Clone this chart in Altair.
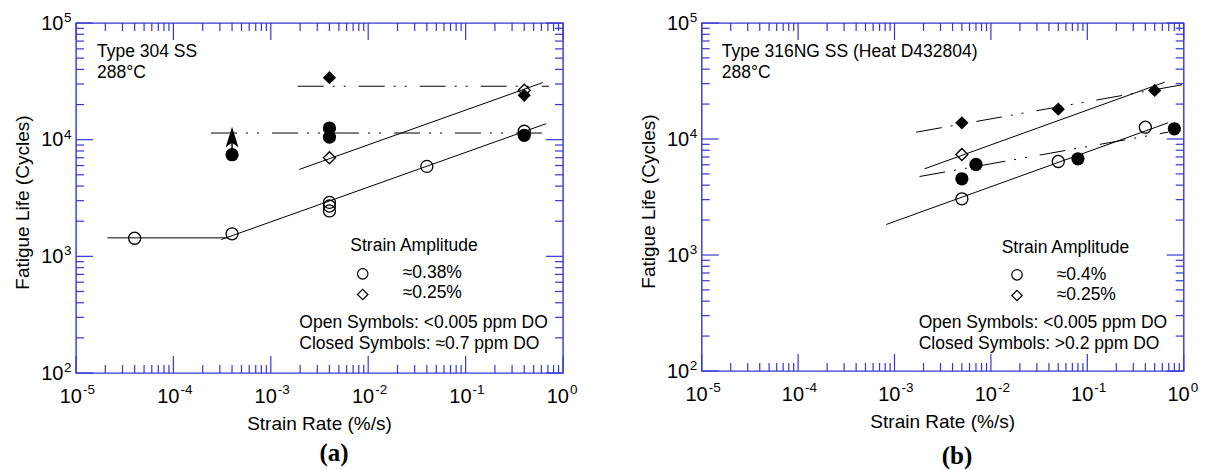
import altair as alt
import pandas as pd

FONT = "Liberation Sans"
BLUE = "#3636d8"

# ---------------- panel (a): Type 304 SS ----------------
a_open_circle_x = [4e-5, 4e-4, 4e-3, 4e-3, 4e-3, 0.04, 0.4]
a_open_circle_y = [1430, 1560, 2900, 2700, 2450, 5900, 11800]
a_open_diamond_x = [4e-3, 0.4]
a_open_diamond_y = [7000, 26500]
a_closed_circle_x = [4e-4, 4e-3, 4e-3, 0.4]
a_closed_circle_y = [7430, 12580, 10520, 10900]
a_closed_diamond_x = [4e-3, 0.4]
a_closed_diamond_y = [34000, 24000]
a_solid_id = ["flat", "flat", "circ", "circ", "diam", "diam"]
a_solid_x = [2.1e-5, 3.6e-4, 3.1e-4, 0.67, 1.96e-3, 0.62]
a_solid_y = [1440, 1440, 1393, 13700, 5560, 30850]
a_dash_id = ["circ", "circ", "diam", "diam"]
a_dash_x = [2.43e-4, 0.67, 1.89e-3, 0.72]
a_dash_y = [11400, 11400, 28700, 28700]
a_arrow_x = [4e-4]
a_arrow_y0 = [7430]
a_arrow_head_y = [10520]

# ---------------- panel (b): Type 316NG SS ----------------
b_open_circle_x = [5e-3, 0.05, 0.4]
b_open_circle_y = [3050, 6400, 12640]
b_open_diamond_x = [5e-3]
b_open_diamond_y = [7350]
b_closed_circle_x = [5e-3, 7e-3, 0.08, 0.8]
b_closed_circle_y = [4540, 6030, 6750, 12250]
b_closed_diamond_x = [5e-3, 0.05, 0.5]
b_closed_diamond_y = [13790, 18070, 26200]
b_solid_id = ["circ", "circ", "diam", "diam"]
b_solid_x = [8.2e-4, 0.69, 2.05e-3, 0.637]
b_solid_y = [1832, 13800, 5535, 30900]
b_dash_id = ["circ", "circ", "diam", "diam"]
b_dash_x = [1.82e-3, 0.69, 1.68e-3, 1.0]
b_dash_y = [4750, 11450, 11450, 29500]

# ---------------- axes ----------------
x_major = [1e-5, 1e-4, 1e-3, 1e-2, 1e-1, 1.0]
x_exp = ["-5", "-4", "-3", "-2", "-1", "0"]
y_major = [1e2, 1e3, 1e4, 1e5]
y_exp = ["2", "3", "4", "5"]
x_minor = [m * d for d in [1e-5, 1e-4, 1e-3, 1e-2, 1e-1] for m in range(2, 10)]
y_minor = [m * d for d in [1e2, 1e3, 1e4] for m in range(2, 10)]

XS = alt.Scale(type="log", domain=[1e-5, 1], nice=False)
YS = alt.Scale(type="log", domain=[100, 1e5], nice=False)
DASH = [26, 9, 2, 9, 2, 13]
ARROW = "M0,-1 L0.62,1 L0,0.55 L-0.62,1 Z"


def X(f="x"):
    return alt.X(f"{f}:Q", scale=XS, axis=None)


def Y(f="y"):
    return alt.Y(f"{f}:Q", scale=YS, axis=None)


def one(text):
    return pd.DataFrame({"t": [text]})


def txt(text, x, y, size=17.5, align="left", font=FONT, weight="normal", angle=0):
    return alt.Chart(one(text)).mark_text(
        align=align, baseline="alphabetic", font=font, fontSize=size,
        fontWeight=weight, angle=angle, color="black"
    ).encode(x=alt.value(x), y=alt.value(y), text="t:N")


def panel(W, H, pts, solid, dash, header, legend, label, leg, arrow=None, anchor=False):
    layers = []
    if anchor:
        layers.append(alt.Chart(one("")).mark_rule(strokeOpacity=0, strokeWidth=1).encode(
            x=alt.value(-66.5), y=alt.value(-14), y2=alt.value(0)))
    # ticks (inward on four sides)
    xmaj = pd.DataFrame({"x": x_major})
    xmin = pd.DataFrame({"x": x_minor})
    ymaj = pd.DataFrame({"y": y_major})
    ymin = pd.DataFrame({"y": y_minor})
    for df, ln in [(xmaj, 17), (xmin, 8)]:
        layers.append(alt.Chart(df).mark_rule(color=BLUE, strokeWidth=1.2).encode(
            x=X(), y=alt.value(H), y2=alt.value(H - ln)))
        layers.append(alt.Chart(df).mark_rule(color=BLUE, strokeWidth=1.2).encode(
            x=X(), y=alt.value(0), y2=alt.value(ln)))
    for df, ln in [(ymaj, 17), (ymin, 8)]:
        layers.append(alt.Chart(df).mark_rule(color=BLUE, strokeWidth=1.2).encode(
            y=Y(), x=alt.value(0), x2=alt.value(ln)))
        layers.append(alt.Chart(df).mark_rule(color=BLUE, strokeWidth=1.2).encode(
            y=Y(), x=alt.value(W), x2=alt.value(W - ln)))
    # tick labels
    xl = pd.DataFrame({"x": x_major, "b": ["10"] * 6, "e": x_exp})
    yl = pd.DataFrame({"y": y_major, "b": ["10"] * 4, "e": y_exp})
    layers.append(alt.Chart(xl).mark_text(align="right", baseline="alphabetic", font=FONT,
                                          fontSize=20, dx=6).encode(
        x=X(), y=alt.value(H + 29.5), text="b:N"))
    layers.append(alt.Chart(xl).mark_text(align="left", baseline="alphabetic", font=FONT,
                                          fontSize=13.5, dx=7).encode(
        x=X(), y=alt.value(H + 21), text="e:N"))
    layers.append(alt.Chart(yl).mark_text(align="right", baseline="alphabetic", font=FONT,
                                          fontSize=20, dy=6.5).encode(
        y=Y(), x=alt.value(-12.5), text="b:N"))
    layers.append(alt.Chart(yl).mark_text(align="left", baseline="alphabetic", font=FONT,
                                          fontSize=13.5, dy=-1).encode(
        y=Y(), x=alt.value(-12), text="e:N"))
    # axis titles
    layers.append(txt("Strain Rate (%/s)", W / 2, H + 57, size=19, align="center"))
    layers.append(txt("Fatigue Life (Cycles)", -46.7, H / 2 + 4.6, size=19,
                      align="center", angle=270))
    # fit lines
    sdf = pd.DataFrame({"x": solid[0], "y": solid[1], "id": solid[2]})
    layers.append(alt.Chart(sdf).mark_line(color="black", strokeWidth=1).encode(
        x=X(), y=Y(), detail="id:N"))
    ddf = pd.DataFrame({"x": dash[0], "y": dash[1], "id": dash[2]})
    layers.append(alt.Chart(ddf).mark_line(color="black", strokeWidth=1, strokeDash=DASH).encode(
        x=X(), y=Y(), detail="id:N"))
    if arrow is not None:
        adf = pd.DataFrame({"x": arrow[0], "y": arrow[1], "y2": arrow[2]})
        layers.append(alt.Chart(adf).mark_rule(color="black", strokeWidth=1.5).encode(
            x=X(), y=Y(), y2="y2:Q"))
        layers.append(alt.Chart(adf).mark_point(shape=ARROW, filled=True, color="black",
                                                size=420, opacity=1).encode(
            x=X(), y=Y("y2")))
    # markers
    oc, od, cc, cd = pts
    for (xs, ys), shape, filled in [(oc, "circle", False), (od, "diamond", False),
                                    (cc, "circle", True), (cd, "diamond", True)]:
        df = pd.DataFrame({"x": xs, "y": ys})
        if filled:
            m = alt.Chart(df).mark_point(shape=shape, filled=True, color="black",
                                         size=175, opacity=1)
        else:
            m = alt.Chart(df).mark_point(shape=shape, filled=False, color="black",
                                         size=145, strokeWidth=1.3, opacity=1)
        layers.append(m.encode(x=X(), y=Y()))
    # header text
    layers.append(txt(header[0], header[2], 33.5))
    layers.append(txt(header[1], header[2], 54.8))
    # legend
    (tx, ty, sx, s1y, s2y, lx, l1y, l2y, ox, o1y, o2y) = leg
    layers.append(txt("Strain Amplitude", tx, ty))
    layers.append(alt.Chart(one("")).mark_point(shape="circle", filled=False, color="black",
                                                size=110, strokeWidth=1.2, opacity=1).encode(
        x=alt.value(sx), y=alt.value(s1y)))
    layers.append(alt.Chart(one("")).mark_point(shape="diamond", filled=False, color="black",
                                                size=110, strokeWidth=1.2, opacity=1).encode(
        x=alt.value(sx), y=alt.value(s2y)))
    layers.append(txt(legend[0], lx, l1y))
    layers.append(txt(legend[1], lx, l2y))
    layers.append(txt(legend[2], ox, o1y))
    layers.append(txt(legend[3], ox, o2y))
    # panel label
    layers.append(txt(label[0], label[1], label[2], size=25, align="center",
                      font="Liberation Serif", weight="bold"))
    return alt.layer(*layers).properties(width=W, height=H)


pa = panel(
    487, 350,
    ((a_open_circle_x, a_open_circle_y), (a_open_diamond_x, a_open_diamond_y),
     (a_closed_circle_x, a_closed_circle_y), (a_closed_diamond_x, a_closed_diamond_y)),
    (a_solid_x, a_solid_y, a_solid_id), (a_dash_x, a_dash_y, a_dash_id),
    ("Type 304 SS", "288°C", 21),
    ("≈0.38%", "≈0.25%", "Open Symbols: <0.005 ppm DO", "Closed Symbols: ≈0.7 ppm DO"),
    ("(a)", 258, 438.2),
    (274.3, 227.5, 286.7, 250.8, 271.5, 326.7, 254.8, 275.2, 223.3, 304.8, 325.8),
    arrow=(a_arrow_x, a_arrow_y0, a_arrow_head_y), anchor=True,
)
pb = panel(
    482, 348,
    ((b_open_circle_x, b_open_circle_y), (b_open_diamond_x, b_open_diamond_y),
     (b_closed_circle_x, b_closed_circle_y), (b_closed_diamond_x, b_closed_diamond_y)),
    (b_solid_x, b_solid_y, b_solid_id), (b_dash_x, b_dash_y, b_dash_id),
    ("Type 316NG SS (Heat D432804)", "288°C", 20),
    ("≈0.4%", "≈0.25%", "Open Symbols: <0.005 ppm DO", "Closed Symbols: >0.2 ppm DO"),
    ("(b)", 255.3, 440.8),
    (300, 230.2, 315.3, 251.8, 272.5, 355, 256.8, 276.5, 217, 304.8, 325.8),
)

chart = alt.hconcat(pa, pb, spacing=138.7, bounds="flush").properties(
    padding=0
).configure_view(stroke=BLUE, strokeWidth=1.4)

chart.save("out.html", embed_options={"renderer": "svg", "actions": False})
